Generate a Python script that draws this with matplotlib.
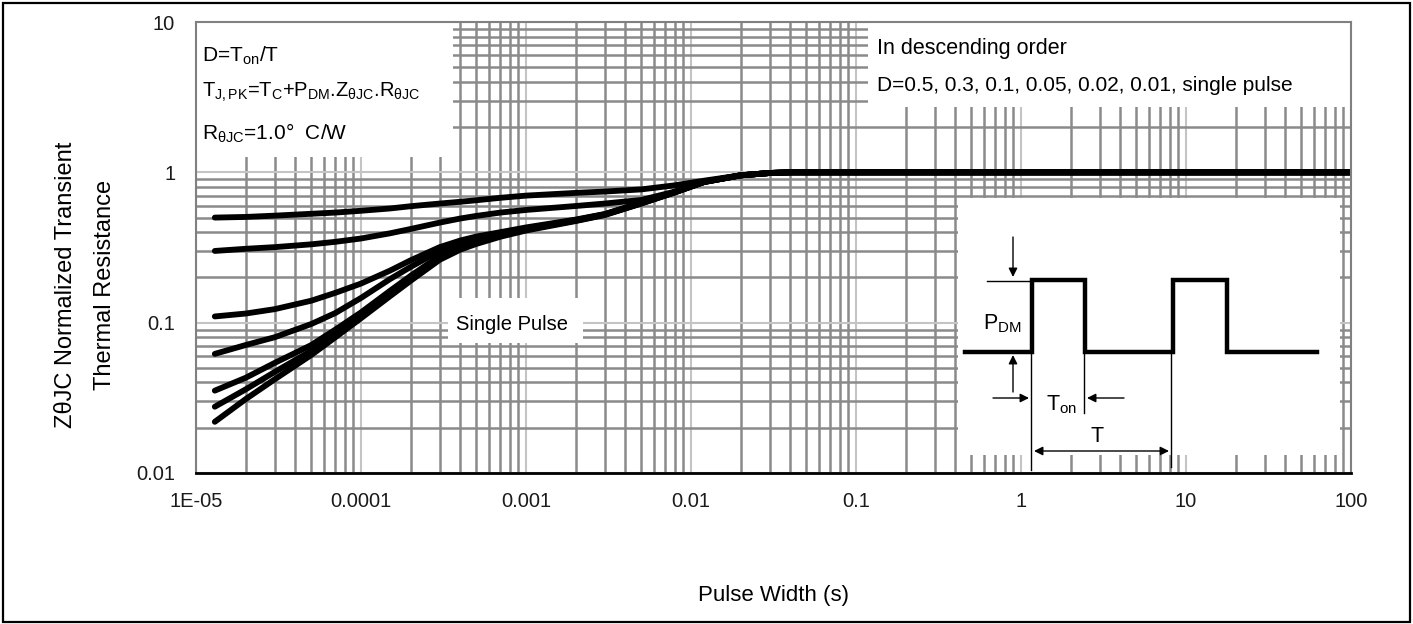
import numpy as np
import matplotlib
matplotlib.use("Agg")
import matplotlib.pyplot as plt
from matplotlib.patches import Rectangle
from matplotlib.ticker import LogLocator, NullFormatter

plt.rcParams['font.family'] = ['Liberation Sans', 'DejaVu Sans']
plt.rcParams['mathtext.fontset'] = 'custom'
plt.rcParams['mathtext.rm'] = 'Liberation Sans'
plt.rcParams['mathtext.it'] = 'Liberation Sans:italic'
plt.rcParams['mathtext.bf'] = 'Liberation Sans:bold'

# ---------------- data ----------------
pulse_width = [1.3e-5, 2e-5, 3e-5, 5e-5, 7e-5, 1e-4, 1.5e-4, 2e-4, 3e-4, 4e-4,
               5e-4, 7e-4, 1e-3, 2e-3, 3e-3, 5e-3, 8e-3, 1.2e-2, 2e-2, 3e-2,
               4e-2, 100]
z_d050 = [0.50, 0.505, 0.515, 0.53, 0.54, 0.555, 0.575, 0.595, 0.62, 0.637,
          0.652, 0.677, 0.70, 0.73, 0.745, 0.77, 0.82, 0.88, 0.955, 0.99,
          1.0, 1.0]
z_d030 = [0.30, 0.31, 0.318, 0.332, 0.345, 0.363, 0.393, 0.42, 0.463, 0.493,
          0.513, 0.54, 0.562, 0.597, 0.62, 0.655, 0.745, 0.865, 0.955, 0.99,
          1.0, 1.0]
z_d010 = [0.11, 0.115, 0.123, 0.140, 0.158, 0.182, 0.222, 0.26, 0.318, 0.352,
          0.374, 0.40, 0.43, 0.485, 0.528, 0.628, 0.74, 0.865, 0.955, 0.99,
          1.0, 1.0]
z_d005 = [0.062, 0.071, 0.080, 0.098, 0.116, 0.146, 0.195, 0.235, 0.30, 0.338,
          0.36, 0.39, 0.424, 0.482, 0.526, 0.626, 0.739, 0.864, 0.955, 0.99,
          1.0, 1.0]
z_d002 = [0.0353, 0.043, 0.054, 0.071, 0.09, 0.117, 0.163, 0.205, 0.278, 0.322,
          0.348, 0.383, 0.419, 0.479, 0.524, 0.624, 0.738, 0.863, 0.955, 0.99,
          1.0, 1.0]
z_d001 = [0.0276, 0.036, 0.047, 0.065, 0.084, 0.111, 0.155, 0.197, 0.27, 0.314,
          0.341, 0.378, 0.415, 0.477, 0.522, 0.622, 0.737, 0.862, 0.955, 0.99,
          1.0, 1.0]
z_single = [0.0219, 0.031, 0.042, 0.061, 0.080, 0.107, 0.150, 0.19, 0.262, 0.306,
            0.334, 0.373, 0.41, 0.474, 0.52, 0.62, 0.736, 0.861, 0.955, 0.99,
            1.0, 1.0]
series = [z_d050, z_d030, z_d010, z_d005, z_d002, z_d001, z_single]

x_ticks = [1e-5, 1e-4, 1e-3, 1e-2, 1e-1, 1, 10, 100]
x_tick_labels = ['1E-05', '0.0001', '0.001', '0.01', '0.1', '1', '10', '100']
y_ticks = [0.01, 0.1, 1, 10]
y_tick_labels = ['0.01', '0.1', '1', '10']

# ---------------- figure ----------------
W, H = 1413, 624
fig = plt.figure(figsize=(W / 100, H / 100), dpi=100)
fig.patch.set_facecolor('white')

ax = fig.add_axes([196 / W, 1 - 473 / H, (1351 - 196) / W, (473 - 22) / H])
ax.set_xscale('log')
ax.set_yscale('log')
ax.set_xlim(1e-5, 100)
ax.set_ylim(0.01, 10)
ax.set_xticks(x_ticks, x_tick_labels)
ax.set_yticks(y_ticks, y_tick_labels)
ax.xaxis.set_minor_locator(LogLocator(base=10, subs=np.arange(2, 10), numticks=30))
ax.yaxis.set_minor_locator(LogLocator(base=10, subs=np.arange(2, 10), numticks=30))
ax.xaxis.set_minor_formatter(NullFormatter())
ax.yaxis.set_minor_formatter(NullFormatter())
ax.tick_params(which='both', length=0)
ax.tick_params(axis='x', pad=14, labelsize=14.5, labelcolor='#1a1a1a')
ax.tick_params(axis='y', pad=15, labelsize=14.5, labelcolor='#1a1a1a')
ax.grid(True, which='major', color='#c4c4c4', lw=1.5)
ax.grid(True, which='minor', color='#8a8a8a', lw=1.8)
ax.set_axisbelow(True)
for s in ['top', 'right', 'left']:
    ax.spines[s].set_color('#808080')
    ax.spines[s].set_linewidth(1.5)
ax.spines['bottom'].set_color('black')
ax.spines['bottom'].set_linewidth(2)


def px_rect(x0, y0, x1, y1, **kw):
    return Rectangle((x0 / W, 1 - y1 / H), (x1 - x0) / W, (y1 - y0) / H,
                     transform=fig.transFigure, **kw)


# white boxes that hide the grid behind the texts / inset
for (x0, y0, x1, y1) in [(196, 22, 453, 157), (868, 22, 1351, 107),
                         (448, 298, 583, 343), (958, 197.5, 1340, 455)]:
    ax.add_patch(px_rect(x0, y0, x1, y1, fc='white', ec='none', zorder=1))

for vals in series:
    ax.plot(pulse_width, vals, color='black', lw=4.2, solid_capstyle='round',
            solid_joinstyle='round', zorder=2)

# ---------------- overlay (pixel coordinates) ----------------
ov = fig.add_axes([0, 0, 1, 1])
ov.set_xlim(0, W)
ov.set_ylim(H, 0)
ov.axis('off')
ov.patch.set_alpha(0)

fs = 15
ov.text(202, 62, 'D=T$_{\\mathrm{on}}$/T', fontsize=fs, va='baseline')
ov.text(202, 97, 'T$_{\\mathrm{J,PK}}$=T$_{\\mathrm{C}}$+P$_{\\mathrm{DM}}$.Z$_{\\mathrm{θJC}}$.R$_{\\mathrm{θJC}}$',
        fontsize=14.5, va='baseline')
ov.text(202, 140, 'R$_{\\mathrm{θJC}}$=1.0°  C/W', fontsize=fs, va='baseline')
ov.text(877, 54, 'In descending order', fontsize=15.5, va='baseline')
ov.text(877, 91, 'D=0.5, 0.3, 0.1, 0.05, 0.02, 0.01, single pulse', fontsize=15, va='baseline')
ov.text(512, 330, 'Single Pulse', fontsize=14.5, va='baseline', ha='center')

ov.text(773, 595, 'Pulse Width (s)', fontsize=16, ha='center', va='center')
ov.text(66, 285, 'ZθJC Normalized Transient', fontsize=17, rotation=90,
        ha='center', va='center')
ov.text(105, 285, 'Thermal Resistance', fontsize=17, rotation=90,
        ha='center', va='center')

# pulse diagram
top, base = 280, 352
ov.plot([965, 1032, 1032, 1085, 1085, 1173, 1173, 1227, 1227, 1317],
        [base, base, top, top, base, base, top, top, base, base],
        color='black', lw=3.2, solid_joinstyle='miter')
ov.plot([987, 1032], [281, 281], color='black', lw=1)
ov.plot([1031, 1031], [352, 470], color='black', lw=1)
ov.plot([1084, 1084], [352, 413], color='black', lw=1)
ov.plot([1171, 1171], [352, 467], color='black', lw=1)
arrow = dict(arrowstyle='-|>', color='black', lw=1, mutation_scale=13, shrinkA=0, shrinkB=0)
ov.annotate('', xy=(1013, 277), xytext=(1013, 237), arrowprops=arrow)
ov.annotate('', xy=(1013, 355), xytext=(1013, 392), arrowprops=arrow)
ov.annotate('', xy=(1029, 398), xytext=(993, 398), arrowprops=arrow)
ov.annotate('', xy=(1087, 398), xytext=(1124, 398), arrowprops=arrow)
ov.annotate('', xy=(1169, 451), xytext=(1034, 451),
            arrowprops=dict(arrowstyle='<|-|>', color='black', lw=1, mutation_scale=13,
                            shrinkA=0, shrinkB=0))
ov.text(983, 329, 'P$_{\\mathrm{DM}}$', fontsize=15.5, va='baseline')
ov.text(1046, 410, 'T$_{\\mathrm{on}}$', fontsize=15.5, va='baseline')
ov.text(1097, 442, 'T', fontsize=15.5, va='baseline', ha='center')

# outer border
ov.add_patch(Rectangle((2.5, 2.5), W - 6, H - 5, fill=False, ec='black', lw=1.6))

fig.savefig('out.png', dpi=100, facecolor='white')
